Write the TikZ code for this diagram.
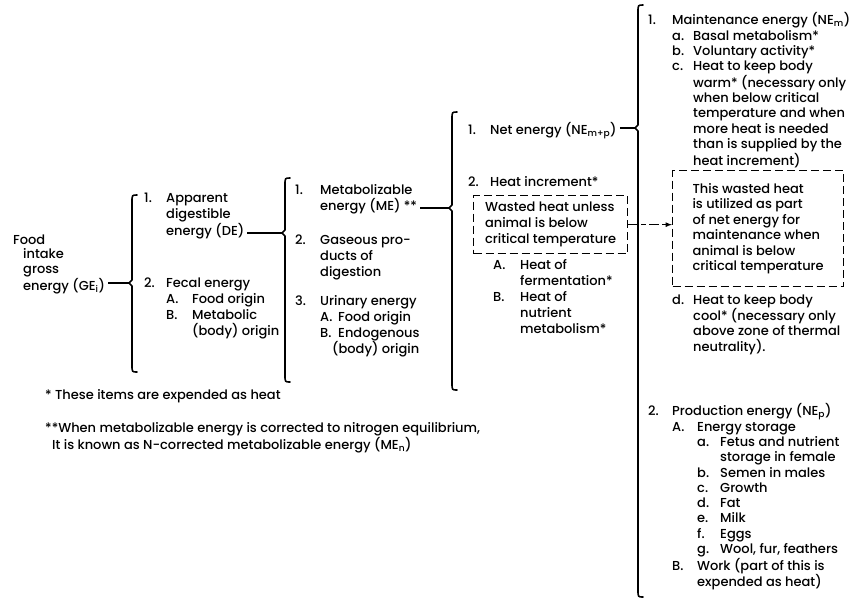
\documentclass[tikz,border=0pt]{standalone}
\usepackage{fontspec}
\setmainfont{Poppins}[UprightFont={* Medium}]
\usetikzlibrary{calc}

\newcommand{\lbl}[2][22pt]{\makebox[#1][l]{#2}}
\newcommand{\hin}[1]{\hspace*{#1}}

\tikzset{
	txt/.style={anchor=north west, inner sep=0pt, align=left, font=\fontsize{13}{16}\selectfont},
	txtr/.style={txt, font=\fontsize{13}{15.3}\selectfont},
	dbox/.style={anchor=north west, draw, dash pattern=on 8pt off 4pt, line width=1.3pt, inner sep=0pt, align=left, font=\fontsize{13}{16}\selectfont},
	brace/.style={line width=1.6pt, line cap=round, line join=round},
	link/.style={line width=1.2pt},
}

\begin{document}
\begin{tikzpicture}[x=1pt, y=-1pt]
	\useasboundingbox (0,0) rectangle (849,606);

	\coordinate (t1) at (129,283);
	\coordinate (t2) at (282,233);
	\coordinate (t3) at (449,208);
	\coordinate (t4) at (635,128);

	\node[txt, font=\fontsize{13}{14.5}\selectfont] (food) at (13,234.5) {Food\\\hin{10pt}intake\\\hin{10pt}gross\\\hin{10pt}energy (GE\textsubscript{i})};

	\node[txt, font=\fontsize{13}{16.5}\selectfont] (app) at (144,192.5) {\lbl{1.}Apparent\\\hin{22pt}digestible\\\hin{22pt}energy (DE)};
	\node[txt] (fecal) at (144,277.5) {\lbl{2.}Fecal energy\\\hin{22pt}\lbl[26pt]{A.}Food origin\\\hin{22pt}\lbl[26pt]{B.}Metabolic\\\hin{48pt}(body) origin};

	\node[txt] (meta) at (295,184.5) {\lbl[25pt]{1.}Metabolizable\\\hin{25pt}energy (ME) **};
	\node[txt] (gas) at (295,234.5) {\lbl[25pt]{2.}Gaseous pro-\\\hin{25pt}ducts of\\\hin{25pt}digestion};
	\node[txt] (urin) at (295,295.5) {\lbl[25pt]{3.}Urinary energy\\\hin{25pt}\lbl[18pt]{A.}Food origin\\\hin{25pt}\lbl[18pt]{B.}Endogenous\\\hin{37pt}(body) origin};

	\node[txt] (net) at (468,122.5) {\lbl{1.}Net energy (NE\textsubscript{m+p})};
	\node[txt] (heat) at (468,176.5) {\lbl{2.}Heat increment*};
	\node[dbox, minimum width=154pt, minimum height=58pt] (waste) at (473,195) {Wasted heat unless\\animal is below\\critical temperature};
	\node[txt] (heatab) at (493,259.5) {\lbl[27pt]{A.}Heat of\\\hin{27pt}fermentation*\\\lbl[27pt]{B.}Heat of\\\hin{27pt}nutrient\\\hin{27pt}metabolism*};

	\node[txtr] (maint) at (648,12.5) {\lbl[24pt]{1.}Maintenance energy (NE\textsubscript{m})\\
		\hin{24pt}\lbl[21pt]{a.}Basal metabolism*\\
		\hin{24pt}\lbl[21pt]{b.}Voluntary activity*\\
		\hin{24pt}\lbl[21pt]{c.}Heat to keep body\\
		\hin{45pt}warm* (necessary only\\
		\hin{45pt}when below critical\\
		\hin{45pt}temperature and when\\
		\hin{45pt}more heat is needed\\
		\hin{45pt}than is supplied by the\\
		\hin{45pt}heat increment)};
	\node[dbox, font=\fontsize{13}{15.5}\selectfont, minimum width=171pt, minimum height=116pt] (use) at (672,170) {This wasted heat\\is utilized as part\\of net energy for\\maintenance when\\animal is below\\critical temperature};
	\node[txtr, font=\fontsize{13}{15.7}\selectfont] (cool) at (672,294.5) {\lbl[21pt]{d.}Heat to keep body\\\hin{21pt}cool* (necessary only\\\hin{21pt}above zone of thermal\\\hin{21pt}neutrality).};
	\node[txtr] (prod) at (648,403.5) {\lbl[24pt]{2.}Production energy (NE\textsubscript{p})\\
		\hin{24pt}\lbl[25pt]{A.}Energy storage\\
		\hin{49pt}\lbl[23pt]{a.}Fetus and nutrient\\
		\hin{72pt}storage in female\\
		\hin{49pt}\lbl[23pt]{b.}Semen in males\\
		\hin{49pt}\lbl[23pt]{c.}Growth\\
		\hin{49pt}\lbl[23pt]{d.}Fat\\
		\hin{49pt}\lbl[23pt]{e.}Milk\\
		\hin{49pt}\lbl[23pt]{f.}Eggs\\
		\hin{49pt}\lbl[23pt]{g.}Wool, fur, feathers\\
		\hin{24pt}\lbl[25pt]{B.}Work (part of this is\\
		\hin{49pt}expended as heat)};

	\node[txt] (note1) at (45,389.5) {* These items are expended as heat};
	\node[txt, font=\fontsize{13}{15}\selectfont] (note2) at (45,422.5) {**When metabolizable energy is corrected to nitrogen equilibrium,\\\hin{7pt}It is known as N-corrected metabolizable energy (ME\textsubscript{n})};

	\draw[brace] (137,195) .. controls (132,195) .. (132,202) -- (132,280) -- (t1) -- (132,286) -- (132,365) .. controls (132,372) .. (137,372);
	\draw[brace] (290,178) .. controls (285,178) .. (285,185) -- (285,230) -- (t2) -- (285,236) -- (285,375) .. controls (285,382) .. (290,382);
	\draw[brace] (457,112) .. controls (452,112) .. (452,119) -- (452,205) -- (t3) -- (452,211) -- (452,383) .. controls (452,390) .. (457,390);
	\draw[brace] (643,5) .. controls (638,5) .. (638,12) -- (638,125) -- (t4) -- (638,131) -- (638,590) .. controls (638,597) .. (643,597);

	\draw[link] ([xshift=3pt]t1 -| food.east) -- (t1);
	\draw[link] ([xshift=3pt]t2 -| app.east) -- (t2);
	\draw[link] ([xshift=3pt]t3 -| meta.east) -- (t3);
	\draw[link] ([xshift=3pt]t4 -| net.east) -- (t4);
	\draw[link, dash pattern=on 10pt off 3pt on 5pt off 3pt, -latex] (waste.east) -- (waste.east -| use.west);
\end{tikzpicture}
\end{document}
